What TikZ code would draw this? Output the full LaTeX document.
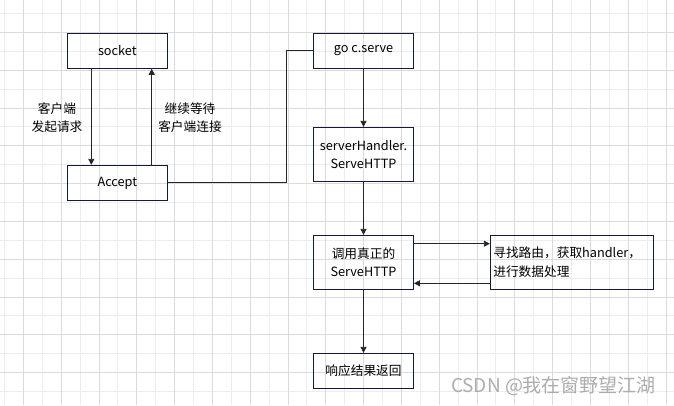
\documentclass[tikz,border=0pt]{standalone}
\usepackage{fontspec}
\setmainfont{Noto Sans CJK SC}
\usetikzlibrary{arrows.meta,calc}
\definecolor{boxline}{HTML}{141A3C}
\definecolor{gridmaj}{HTML}{DADADA}
\definecolor{gridmin}{HTML}{EDEDED}
\definecolor{wm}{HTML}{ADADAD}
\begin{document}
\begin{tikzpicture}[x=1pt,y=-1pt,
  font=\fontsize{12.7}{18.4}\selectfont,
  box/.style={draw=boxline, line width=0.9pt, minimum width=100pt, align=center, inner sep=2pt, text=black},
  arr/.style={-{Triangle[length=6pt,width=6pt]}, line width=0.8pt, draw=black!85},
  conn/.style={line width=0.8pt, draw=black!85},
  lbl/.style={align=center, inner sep=0pt, text=black}]
\useasboundingbox (0,0) rectangle (674,405);
\fill[white] (0,0) rectangle (674,405);
% grid
\foreach \j in {0,...,17} {\draw[gridmin, line width=0.8pt] ({4.4+37.8*\j},0) -- ({4.4+37.8*\j},405);}
\foreach \j in {0,...,10} {\draw[gridmin, line width=0.8pt] (0,{13.4+37.8*\j}) -- (674,{13.4+37.8*\j});}
\foreach \j in {0,...,17} {\draw[gridmaj, line width=0.8pt] ({23.3+37.8*\j},0) -- ({23.3+37.8*\j},405);}
\foreach \j in {0,...,9} {\draw[gridmaj, line width=0.8pt] (0,{32.3+37.8*\j}) -- (674,{32.3+37.8*\j});}
% nodes
\node[box, minimum height=35pt] (socket) at (117.3,50.8) {socket};
\node[box, minimum height=35pt] (accept) at (117.3,182.8) {Accept};
\node[box, minimum height=35pt] (goserve) at (363.5,50.8) {go c.serve};
\node[box, minimum height=54pt] (handler) at (363.5,154.3) {serverHandler.\\ServeHTTP};
\node[box, minimum height=54pt] (call) at (363.5,262.3) {调用真正的\\ServeHTTP};
\node[box, minimum height=54pt, minimum width=163pt, text width=157pt, align=left, inner sep=3pt] (route) at (571.8,262.3) {寻找路由，获取handler，\\进行数据处理};
\node[box, minimum height=35pt] (resp) at (363.5,370.8) {响应结果返回};
% labels
\node[lbl] (l1) at (57,117.5) {客户端\\发起请求};
\node[lbl] (l2) at (190,117.5) {继续等待\\客户端连接};
% connectors
\draw[arr] ([xshift=-26pt]socket.south) -- ([xshift=-26pt]accept.north);
\draw[arr] ([xshift=34.4pt]accept.north) -- ([xshift=34.4pt]socket.south);
\draw[conn] (accept.east) -- ++(118.4,0) |- (goserve.west);
\draw[arr] (goserve.south) -- (handler.north);
\draw[arr] (handler.south) -- (call.north);
\draw[arr] ([yshift=18.6pt]call.east) -- ([yshift=18.6pt]call.east -| route.west);
\draw[arr] ([yshift=-21pt]route.west) -- ([yshift=-21pt]route.west -| call.east);
\draw[arr] (call.south) -- (resp.north);
% watermark
\node[text=wm, font=\fontsize{19}{21}\selectfont, inner sep=0pt] (wmark) at (553.5,385.7) {CSDN @我在窗野望江湖};
\end{tikzpicture}
\end{document}
